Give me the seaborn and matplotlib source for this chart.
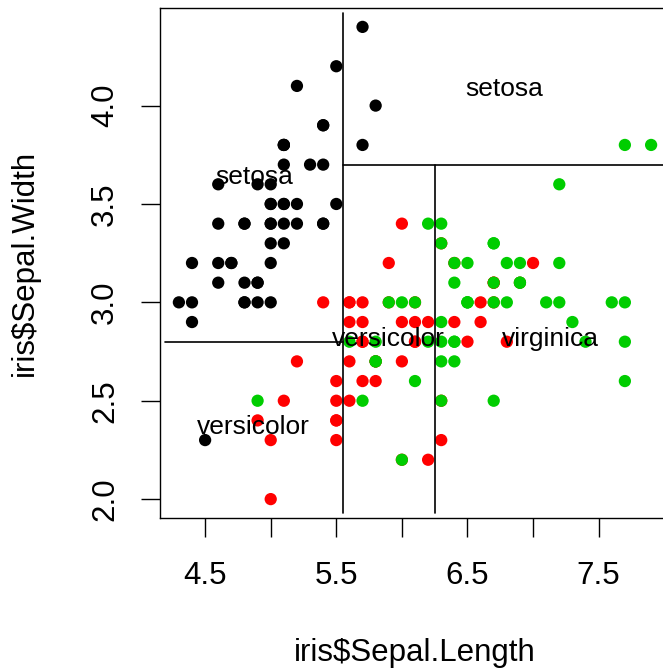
import numpy as np
import pandas as pd
import matplotlib
matplotlib.use("Agg")
import matplotlib.pyplot as plt
import seaborn as sns

# ---- data (iris: Sepal.Length, Sepal.Width, Species) ----
sepal_length = [
    5.1,4.9,4.7,4.6,5.0,5.4,4.6,5.0,4.4,4.9,5.4,4.8,4.8,4.3,5.8,5.7,5.4,5.1,5.7,5.1,
    5.4,5.1,4.6,5.1,4.8,5.0,5.0,5.2,5.2,4.7,4.8,5.4,5.2,5.5,4.9,5.0,5.5,4.9,4.4,5.1,
    5.0,4.5,4.4,5.0,5.1,4.8,5.1,4.6,5.3,5.0,
    7.0,6.4,6.9,5.5,6.5,5.7,6.3,4.9,6.6,5.2,5.0,5.9,6.0,6.1,5.6,6.7,5.6,5.8,6.2,5.6,
    5.9,6.1,6.3,6.1,6.4,6.6,6.8,6.7,6.0,5.7,5.5,5.5,5.8,6.0,5.4,6.0,6.7,6.3,5.6,5.5,
    5.5,6.1,5.8,5.0,5.6,5.7,5.7,6.2,5.1,5.7,
    6.3,5.8,7.1,6.3,6.5,7.6,4.9,7.3,6.7,7.2,6.5,6.4,6.8,5.7,5.8,6.4,6.5,7.7,7.7,6.0,
    6.9,5.6,7.7,6.3,6.7,7.2,6.2,6.1,6.4,7.2,7.4,7.9,6.4,6.3,6.1,7.7,6.3,6.4,6.0,6.9,
    6.7,6.9,5.8,6.8,6.7,6.7,6.3,6.5,6.2,5.9,
]
sepal_width = [
    3.5,3.0,3.2,3.1,3.6,3.9,3.4,3.4,2.9,3.1,3.7,3.4,3.0,3.0,4.0,4.4,3.9,3.5,3.8,3.8,
    3.4,3.7,3.6,3.3,3.4,3.0,3.4,3.5,3.4,3.2,3.1,3.4,4.1,4.2,3.1,3.2,3.5,3.6,3.0,3.4,
    3.5,2.3,3.2,3.5,3.8,3.0,3.8,3.2,3.7,3.3,
    3.2,3.2,3.1,2.3,2.8,2.8,3.3,2.4,2.9,2.7,2.0,3.0,2.2,2.9,2.9,3.1,3.0,2.7,2.2,2.5,
    3.2,2.8,2.5,2.8,2.9,3.0,2.8,3.0,2.9,2.6,2.4,2.4,2.7,2.7,3.0,3.4,3.1,2.3,3.0,2.5,
    2.6,3.0,2.6,2.3,2.7,3.0,2.9,2.9,2.5,2.8,
    3.3,2.7,3.0,2.9,3.0,3.0,2.5,2.9,2.5,3.6,3.2,2.7,3.0,2.5,2.8,3.2,3.0,3.8,2.6,2.2,
    3.2,2.8,2.8,2.7,3.3,3.2,2.8,3.0,2.8,3.0,2.8,3.8,2.8,2.8,2.6,3.0,3.4,3.1,3.0,3.1,
    3.1,3.1,2.7,3.2,3.3,3.0,2.5,3.0,3.4,3.0,
]
species_names = ["setosa", "versicolor", "virginica"]
species = [s for s in species_names for _ in range(50)]
species_colors = ["#000000", "#FF0000", "#00CD00"]

# partition tree splits
split_x1 = 5.55   # first split on Sepal.Length
split_y_left = 2.8  # left branch split on Sepal.Width
split_y_right = 3.7  # right branch split on Sepal.Width
split_x2 = 6.25   # right-lower split on Sepal.Length
leaf_labels = ["setosa", "versicolor", "versicolor", "virginica", "setosa"]

x_ticks = [4.5, 5.0, 5.5, 6.0, 6.5, 7.0, 7.5]
x_ticklabels = ["4.5", "", "5.5", "", "6.5", "", "7.5"]
y_ticks = [2.0, 2.5, 3.0, 3.5, 4.0]
y_ticklabels = ["2.0", "2.5", "3.0", "3.5", "4.0"]

df = pd.DataFrame({"Sepal.Length": sepal_length,
                   "Sepal.Width": sepal_width,
                   "Species": species})

sns.set_theme(style="white")
plt.rcParams["font.family"] = ["Liberation Sans", "DejaVu Sans"]

W, H = 663, 669
fig = plt.figure(figsize=(W / 100, H / 100), dpi=100)
left_px, top_px, bottom_px, right_px = 160, 8, 518, 670
ax = fig.add_axes([left_px / W, (H - bottom_px) / H,
                   (right_px - left_px) / W, (bottom_px - top_px) / H])

sns.scatterplot(data=df, x="Sepal.Length", y="Sepal.Width", hue="Species",
                hue_order=species_names, palette=species_colors,
                s=78, linewidth=0, legend=False, ax=ax, zorder=3)

xmin, xmax = min(sepal_length), max(sepal_length)
ymin, ymax = min(sepal_width), max(sepal_width)
xr, yr = xmax - xmin, ymax - ymin
ax.set_xlim(xmin - 0.04 * xr, xmax + 0.04 * xr)
ax.set_ylim(ymin - 0.04 * yr, ymax + 0.04 * yr)

# partition region box (data range +/- 3%)
px0, px1 = xmin - 0.03 * xr, xmax + 0.03 * xr
py0, py1 = ymin - 0.03 * yr, ymax + 0.03 * yr
lkw = dict(color="black", lw=1.2, zorder=4)
ax.plot([split_x1, split_x1], [py0, py1], **lkw)
ax.plot([px0, split_x1], [split_y_left, split_y_left], **lkw)
ax.plot([split_x1, px1], [split_y_right, split_y_right], **lkw)
ax.plot([split_x2, split_x2], [py0, split_y_right], **lkw)

regions = [
    ((px0 + split_x1) / 2, (split_y_left + py1) / 2),
    ((px0 + split_x1) / 2, (py0 + split_y_left) / 2),
    ((split_x1 + split_x2) / 2, (py0 + split_y_right) / 2),
    ((split_x2 + px1) / 2, (py0 + split_y_right) / 2),
    ((split_x1 + px1) / 2, (split_y_right + py1) / 2),
]
for (cx, cy), lab in zip(regions, leaf_labels):
    ax.text(cx, cy, lab, ha="center", va="center", fontsize=19,
            color="black", zorder=5)

ax.set_xticks(x_ticks)
ax.set_xticklabels(x_ticklabels)
ax.set_yticks(y_ticks)
ax.set_yticklabels(y_ticklabels, rotation=90, va="center")
ax.tick_params(axis="both", which="major", direction="out", length=13.7,
               width=1.0, color="black", labelsize=22.5, labelcolor="black",
               bottom=True, left=True)
ax.tick_params(axis="x", pad=17)
ax.tick_params(axis="y", pad=15)
for sp in ax.spines.values():
    sp.set_color("black")
    sp.set_linewidth(1.0)
    sp.set_visible(True)

ax.set_xlabel("iris$Sepal.Length", fontsize=22.5, color="black", labelpad=34)
ax.set_ylabel("iris$Sepal.Width", fontsize=22.5, color="black", labelpad=36)
ax.grid(False)

fig.savefig("out.png", dpi=100)
